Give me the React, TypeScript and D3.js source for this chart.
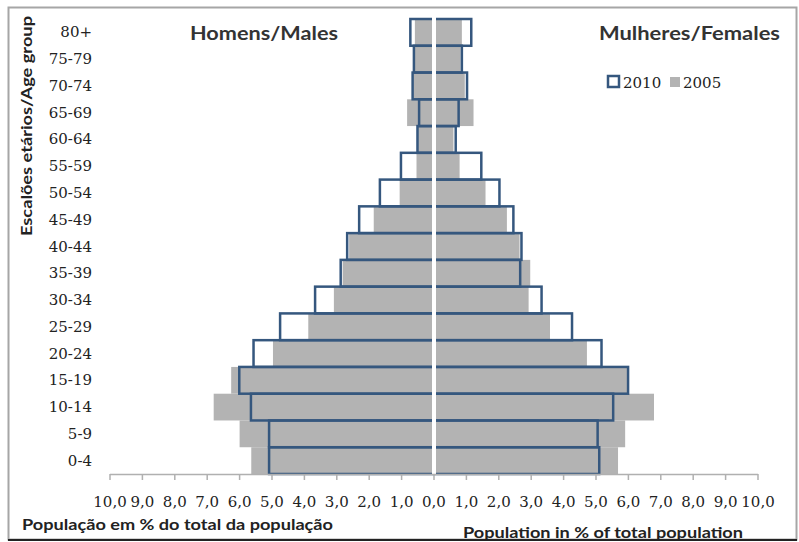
import React from "react";
import * as d3 from "d3";

const ageGroups = ["0-4","5-9","10-14","15-19","20-24","25-29","30-34","35-39","40-44","45-49","50-54","55-59","60-64","65-69","70-74","75-79","80+"];
const males2010 = [5.09, 5.09, 5.65, 6.01, 5.57, 4.75, 3.67, 2.88, 2.68, 2.31, 1.67, 1.02, 0.51, 0.46, 0.66, 0.62, 0.73];
const males2005 = [5.64, 6.0, 6.8, 6.26, 4.97, 3.88, 3.09, 2.82, 2.62, 1.86, 1.06, 0.54, 0.5, 0.83, 0.64, 0.6, 0.59];
const females2010 = [5.1, 5.05, 5.53, 5.99, 5.17, 4.26, 3.32, 2.66, 2.7, 2.45, 2.02, 1.46, 0.67, 0.76, 1.02, 0.86, 1.15];
const females2005 = [5.68, 5.9, 6.79, 6.0, 4.72, 3.58, 2.92, 2.97, 2.64, 2.25, 1.59, 0.79, 0.6, 1.22, 0.95, 0.82, 0.86];
const tickValues = [-10,-9,-8,-7,-6,-5,-4,-3,-2,-1,0,1,2,3,4,5,6,7,8,9,10];
const tickLabels = ["10,0","9,0","8,0","7,0","6,0","5,0","4,0","3,0","2,0","1,0","0,0","1,0","2,0","3,0","4,0","5,0","6,0","7,0","8,0","9,0","10,0"];

const W = 799, H = 542;
const BLUE = "#35577e";
const GREY = "#b3b3b3";
const SANS = "Lato, 'Open Sans', sans-serif";
const SERIF = "'DejaVu Serif', serif";

export default function App() {
  const x = d3.scaleLinear().domain([-10, 10]).range([110, 758]);
  const y = d3.scaleBand<string>().domain([...ageGroups].reverse()).range([19, 474]).padding(0);
  const bw = y.bandwidth();
  const x0 = x(0);

  return (
    <svg width={W} height={H} style={{ position: "absolute", left: 0, top: 0, background: "#fff" }}>
      <rect x={8.5} y={7.5} width={788} height={532} fill="#fff" stroke="#a6a6a6" strokeWidth={2} />
      <line x1={8} x2={797} y1={540} y2={540} stroke="#222" strokeWidth={2} />

      {/* 2005 grey bars */}
      {ageGroups.map((g, i) => (
        <g key={"g05" + g}>
          <rect x={x(-males2005[i])} y={y(g)!} width={x0 - x(-males2005[i])} height={bw} fill={GREY} />
          <rect x={x0} y={y(g)!} width={x(females2005[i]) - x0} height={bw} fill={GREY} />
        </g>
      ))}
      {/* 2010 outlined bars */}
      {ageGroups.map((g, i) => (
        <g key={"g10" + g}>
          <rect x={x(-males2010[i])} y={y(g)!} width={x0 - x(-males2010[i])} height={bw} fill="none" stroke={BLUE} strokeWidth={2.5} />
          <rect x={x0} y={y(g)!} width={x(females2010[i]) - x0} height={bw} fill="none" stroke={BLUE} strokeWidth={2.5} />
        </g>
      ))}
      {/* white centre line */}
      <line x1={x0} x2={x0} y1={15} y2={474} stroke="#fff" strokeWidth={4} />

      {/* x axis */}
      <line x1={x(-10)} x2={x(10)} y1={474.5} y2={474.5} stroke="#b0b0b0" strokeWidth={1.5} />
      {tickValues.map((t, i) => (
        <g key={"t" + t}>
          <line x1={x(t)} x2={x(t)} y1={474} y2={480} stroke="#b0b0b0" strokeWidth={1.5} />
          <text x={x(t)} y={507} textAnchor="middle" fontFamily={SERIF} fontSize={15} fill="#222">{tickLabels[i]}</text>
        </g>
      ))}

      {/* y labels */}
      {ageGroups.map((g) => (
        <text key={"l" + g} x={92} y={y(g)! + bw / 2 + 5} textAnchor="end" fontFamily={SERIF} fontSize={15} fill="#222">{g}</text>
      ))}

      <text transform="translate(32,126) rotate(-90)" textAnchor="middle" fontFamily={SANS} fontWeight="bold" fontSize={15} textLength={220} lengthAdjust="spacingAndGlyphs" fill="#222">Escalões etários/Age group</text>

      <text x={190} y={40} fontFamily={SANS} fontWeight="bold" fontSize={19} textLength={148} lengthAdjust="spacingAndGlyphs" fill="#333">Homens/Males</text>
      <text x={599} y={40} fontFamily={SANS} fontWeight="bold" fontSize={19} textLength={181} lengthAdjust="spacingAndGlyphs" fill="#333">Mulheres/Females</text>

      {/* legend */}
      <rect x={608} y={76} width={11} height={11} fill="#fff" stroke={BLUE} strokeWidth={2.5} />
      <text x={623} y={88} fontFamily={SERIF} fontSize={15} fill="#222">2010</text>
      <rect x={670} y={77} width={10} height={10} fill={GREY} />
      <text x={683} y={88} fontFamily={SERIF} fontSize={15} fill="#222">2005</text>

      <text x={22} y={530} fontFamily={SANS} fontWeight="bold" fontSize={15} textLength={311} lengthAdjust="spacingAndGlyphs" fill="#222">População em  % do total da população</text>
      <text x={463} y={538} fontFamily={SANS} fontWeight="bold" fontSize={15} textLength={280} lengthAdjust="spacingAndGlyphs" fill="#222">Population in % of total population</text>
    </svg>
  );
}
